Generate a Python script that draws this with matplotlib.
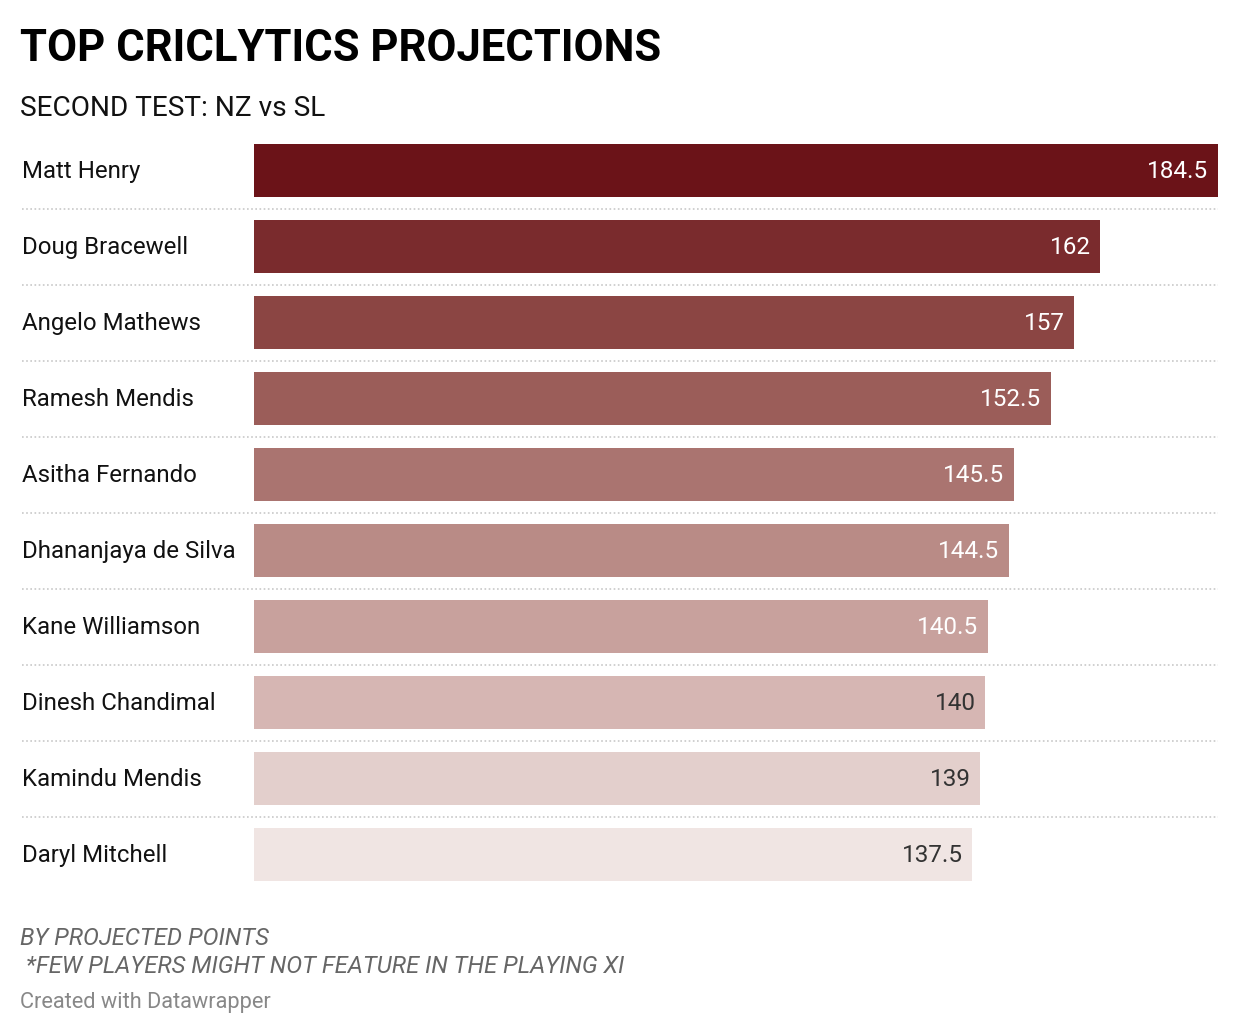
import matplotlib
matplotlib.use('Agg')
import matplotlib.pyplot as plt
from matplotlib.transforms import blended_transform_factory

plt.rcParams['font.family'] = ['Roboto', 'DejaVu Sans']

# data
players = ['Matt Henry', 'Doug Bracewell', 'Angelo Mathews', 'Ramesh Mendis',
           'Asitha Fernando', 'Dhananjaya de Silva', 'Kane Williamson',
           'Dinesh Chandimal', 'Kamindu Mendis', 'Daryl Mitchell']
points = [184.5, 162, 157, 152.5, 145.5, 144.5, 140.5, 140, 139, 137.5]
labels = ['184.5', '162', '157', '152.5', '145.5', '144.5', '140.5', '140', '139', '137.5']

colors = ['#6b1318', '#7a2b2d', '#8b4543', '#9b5d59', '#aa7470',
          '#b98b86', '#c8a19d', '#d6b6b3', '#e3cfcc', '#f0e5e3']
text_colors = ['white'] * 7 + ['#333333'] * 3

W, H = 1240, 1034
fig = plt.figure(figsize=(W / 100, H / 100), dpi=100)

def fx(px):
    return px / W

def fy(py):
    return 1 - py / H

# axes: x from 254px to 1218px, rows 76px apart centred at 170.5px
ax = fig.add_axes([fx(254), fy(892.5), (1218 - 254) / W, 760 / H])
ypos = list(range(len(players)))
ax.barh(ypos, points, height=53 / 76, color=colors)
ax.set_xlim(0, max(points))
ax.set_ylim(len(players) - 0.5, -0.5)
ax.axis('off')

for y, v, lab, tc in zip(ypos, points, labels, text_colors):
    ax.annotate(lab, (v, y), xytext=(-7, -1), textcoords='offset points',
                ha='right', va='center', color=tc, fontsize=17.5)

# row labels and dotted separators
trans = blended_transform_factory(ax.transAxes, ax.transData)
x_left = (22 - 254) / 964
for y, name in zip(ypos, players):
    ax.annotate(name, (x_left, y), xycoords=trans, xytext=(0, -1),
                textcoords='offset points', ha='left', va='center',
                fontsize=17.3, color='#111111')
for y in ypos[:-1]:
    ax.plot([x_left, 1], [y + 0.5, y + 0.5], transform=trans, clip_on=False,
            color='#c8c8c8', lw=1.2, ls=(0, (1, 1.5)))

fig.text(fx(20), fy(61), 'TOP CRICLYTICS PROJECTIONS', fontsize=31.4,
         fontweight='bold', color='#000000', va='baseline')
fig.text(fx(20), fy(116), 'SECOND TEST: NZ vs SL', fontsize=20.2,
         color='#111111', va='baseline')
fig.text(fx(20), fy(945), 'BY PROJECTED POINTS', fontsize=17.2, style='italic',
         color='#666666', va='baseline')
fig.text(fx(20), fy(973), ' *FEW PLAYERS MIGHT NOT FEATURE IN THE PLAYING XI',
         fontsize=17.2, style='italic', color='#666666', va='baseline')
fig.text(fx(20), fy(1008), 'Created with Datawrapper', fontsize=15.7,
         color='#888888', va='baseline')

fig.savefig('out.png', dpi=100, facecolor='white')
